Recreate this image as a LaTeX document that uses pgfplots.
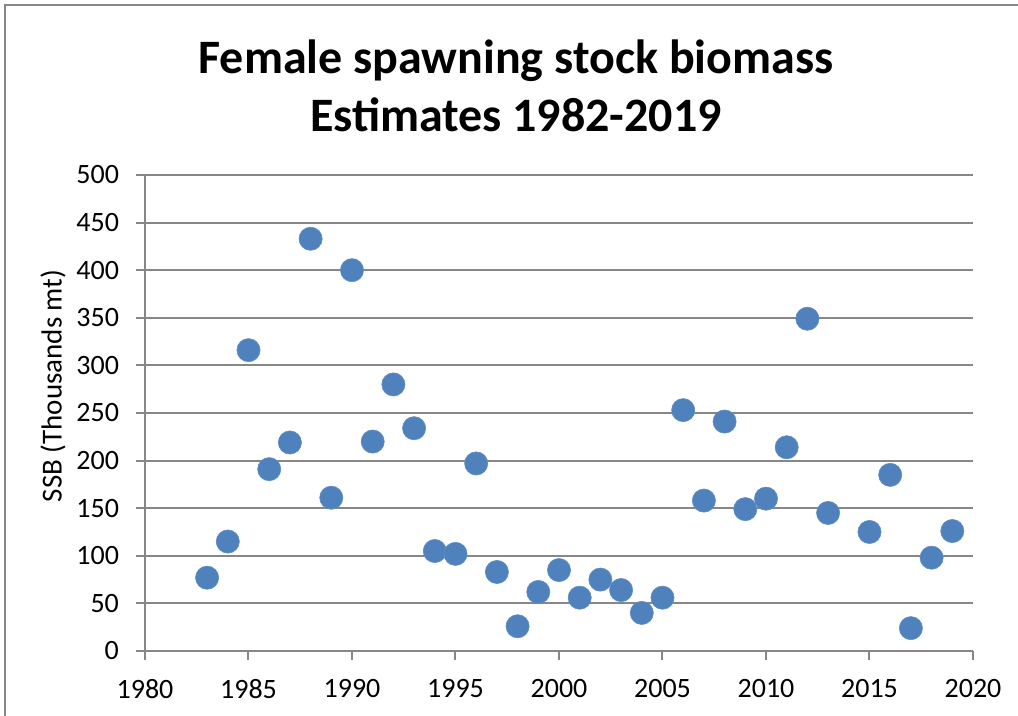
\documentclass[border=0pt]{standalone}
\usepackage{fontspec}
\setmainfont{Carlito}
\usepackage{pgfplots}
\pgfplotsset{compat=1.18}
\definecolor{gridgray}{HTML}{878787}
\definecolor{ptblue}{HTML}{4F81BD}
\begin{document}
\begin{tikzpicture}
\useasboundingbox (0,0) rectangle (509pt,358pt);
\draw[gridgray, line width=1pt] (2.5pt,0) -- (2.5pt,355.5pt) -- (509pt,355.5pt);
\node[align=center, font=\fontsize{24}{29}\selectfont\bfseries] at (258pt,315pt)
  {Female spawning stock biomass\\Estimates 1982-2019};
\begin{axis}[
  at={(72.5pt,32.5pt)}, anchor=south west,
  scale only axis, width=414pt, height=238pt,
  xmin=1980, xmax=2020, ymin=0, ymax=500,
  xtick={1980,1985,...,2020}, ytick={0,50,...,500},
  axis x line*=bottom, axis y line*=left,
  axis line style={gridgray, line width=1pt, -},
  tick style={gridgray, line width=1pt},
  tick align=outside, major tick length=4.5pt,
  xtick pos=bottom, ytick pos=left,
  ymajorgrids, grid style={gridgray, line width=1pt},
  /pgf/number format/1000 sep={},
  /pgf/number format/assume math mode=true,
  ticklabel style={font=\fontsize{14}{16}\selectfont, black},
  xticklabel style={yshift=-6pt},
  yticklabel style={xshift=-5pt},
  ylabel={SSB (Thousands mt)},
  ylabel style={at={(axis description cs:-0.111,0.557)}, anchor=center, font=\fontsize{14.5}{16}\selectfont},
  clip=false,
]
\addplot[only marks, mark=*, mark size=5.8pt, mark options={fill=ptblue, draw=ptblue!90!white, line width=0.3pt}]
coordinates {
(1983,77) (1984,115) (1985,316) (1986,191) (1987,219) (1988,433) (1989,161)
(1990,400) (1991,220) (1992,280) (1993,234) (1994,105) (1995,102) (1996,197)
(1997,83) (1998,26) (1999,62) (2000,85) (2001,56) (2002,75) (2003,64)
(2004,40) (2005,56) (2006,253) (2007,158) (2008,241) (2009,149) (2010,160)
(2011,214) (2012,349) (2013,145) (2015,125) (2016,185) (2017,24) (2018,98)
(2019,126)
};
\end{axis}
\end{tikzpicture}
\end{document}
